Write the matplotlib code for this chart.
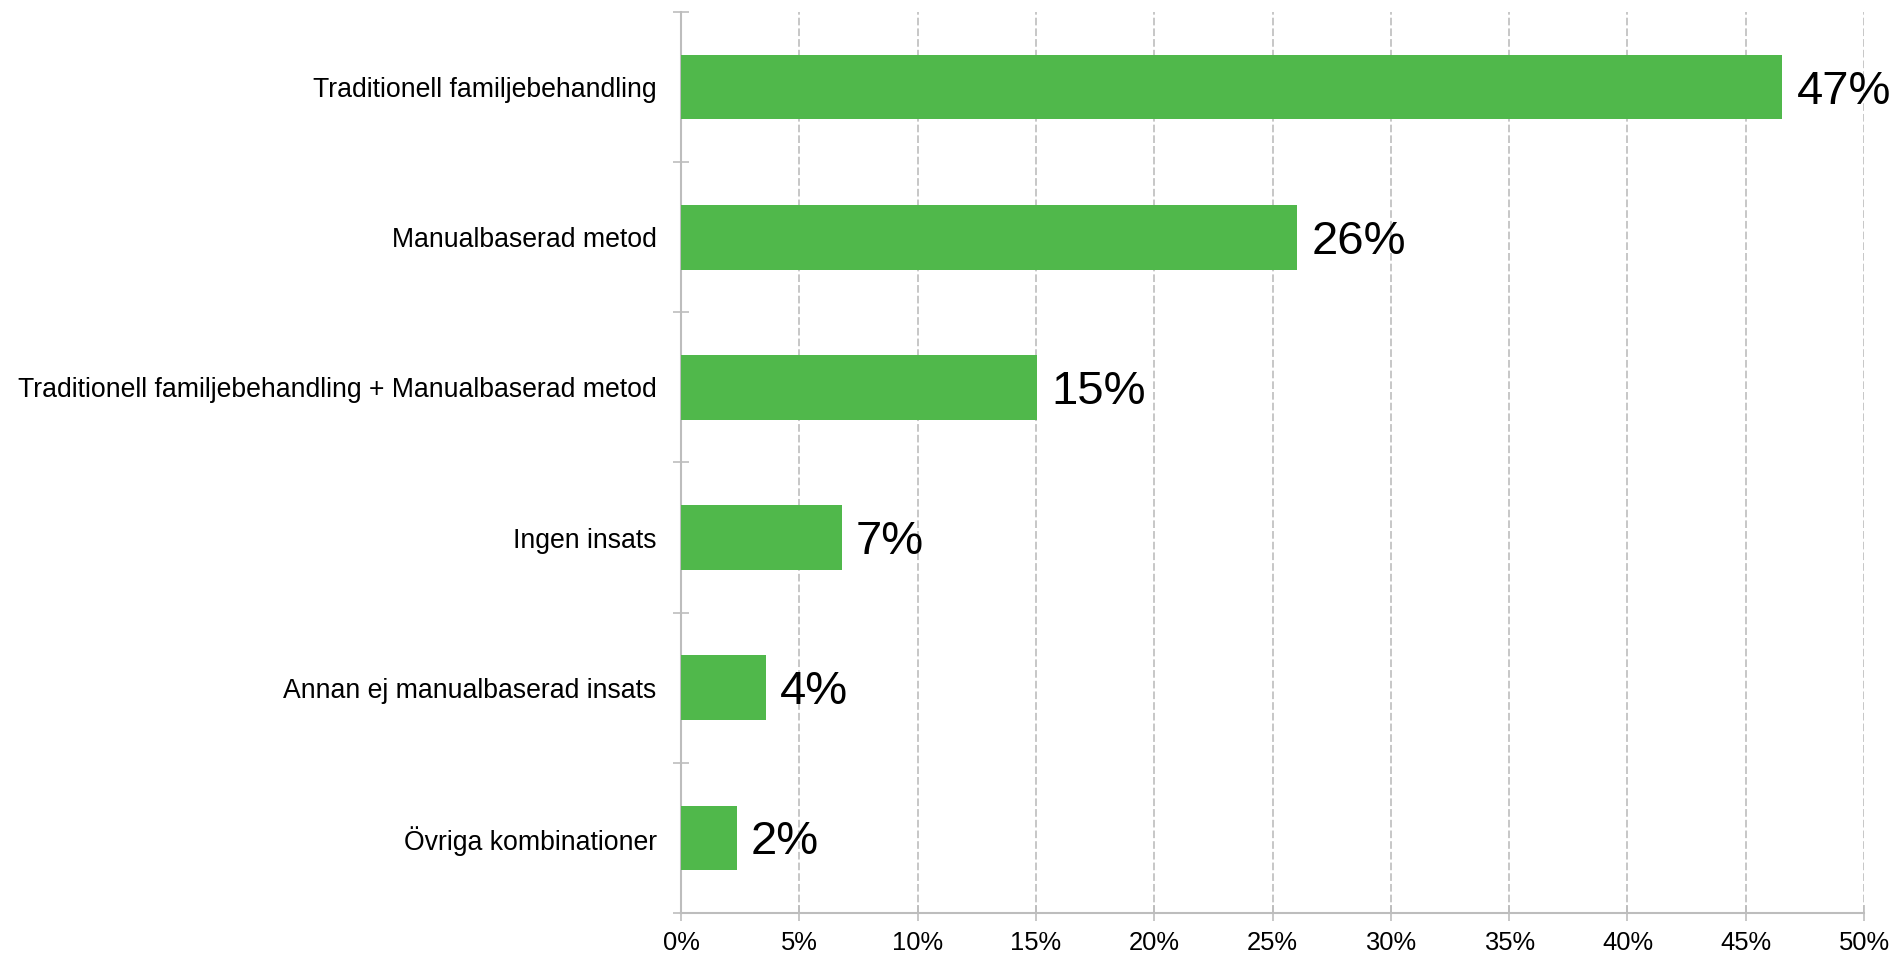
import numpy as np
import matplotlib
matplotlib.use("Agg")
from matplotlib import pyplot as plt
from matplotlib.ticker import FuncFormatter

plt.rcParams['font.family'] = ['Liberation Sans', 'DejaVu Sans']
plt.rcParams['lines.scale_dashes'] = False

categories = ["Traditionell familjebehandling",
              "Manualbaserad metod",
              "Traditionell familjebehandling + Manualbaserad metod",
              "Ingen insats",
              "Annan ej manualbaserad insats",
              "Övriga kombinationer"]
values = [46.55, 26.05, 15.05, 6.8, 3.6, 2.35]
value_labels = ["47%", "26%", "15%", "7%", "4%", "2%"]
xticks = [0, 5, 10, 15, 20, 25, 30, 35, 40, 45, 50]

green = "#50b84b"
gray = "#bdbdbd"

fig = plt.figure(figsize=(19.01, 9.6), dpi=100)
ax = fig.add_axes([0.3582, 0.049, 0.9806 - 0.3582, 0.9875 - 0.049])

y = np.arange(len(categories))
ax.barh(y, values, height=0.43, color=green, zorder=3)
for yi, v, lab in zip(y, values, value_labels):
    ax.text(v + 0.6, yi + 0.03, lab, va='center', ha='left', fontsize=34, color='black', zorder=4)

ax.set_xlim(0, 50)
ax.set_ylim(len(categories) - 0.5, -0.5)

ax.set_xticks(xticks)
ax.xaxis.set_major_formatter(FuncFormatter(lambda v, p: f"{v:.0f}%"))
ax.tick_params(axis='x', direction='inout', length=12, width=1.2, color=gray,
               labelsize=18.4, pad=7, labelcolor='black')

ax.set_yticks(y)
ax.set_yticklabels(categories)
ax.tick_params(axis='y', which='major', length=0, pad=17.5, labelsize=19.2, labelcolor='black')
ax.set_yticks(np.arange(-0.5, len(categories)), minor=True)
ax.tick_params(axis='y', which='minor', direction='inout', length=11, width=1.2, color=gray)

ax.grid(axis='x', color=gray, linestyle=(0, (5.5, 2.2)), linewidth=1.2, zorder=0)
ax.set_axisbelow(True)

for s in ['top', 'right']:
    ax.spines[s].set_visible(False)
for s in ['left', 'bottom']:
    ax.spines[s].set_color(gray)
    ax.spines[s].set_linewidth(1.5)

fig.savefig("out.png", dpi=100)
